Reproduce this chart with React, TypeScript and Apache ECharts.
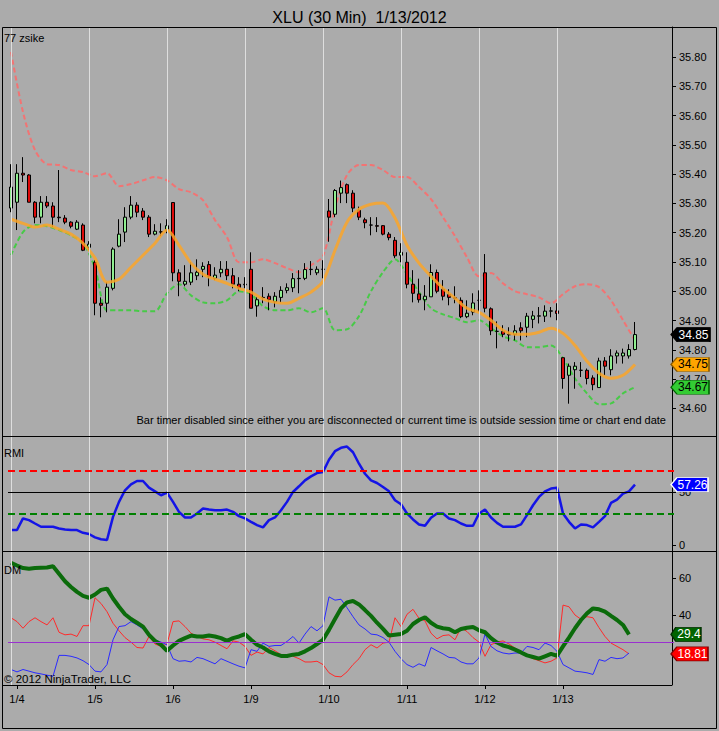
import React, { useEffect, useRef } from "react";
import * as echarts from "echarts";

const FONT = "'Liberation Sans', Arial, sans-serif";

const chartTitle = "XLU (30 Min)  1/13/2012";
const slotCount = 111;
const dayLabels = ["1/4", "1/5", "1/6", "1/9", "1/10", "1/11", "1/12", "1/13"];
const dayLabelIndex = [1, 14, 27, 40, 53, 66, 79, 92];
const sessionBreakIndex = [0, 13, 26, 39, 52, 65, 78, 91];
const priceTicks = [34.6, 34.7, 34.8, 34.9, 35.0, 35.1, 35.2, 35.3, 35.4, 35.5, 35.6, 35.7, 35.8];
const rmiTicks = [0, 50];
const dmTicks = [40, 60];
const rmiUpper = 70;
const rmiMiddle = 50;
const rmiLower = 30;
const dmLevel = 25;
const tagIndex = 110;
const tagTexts = { close: "34.85", middle: "34.75", lower: "34.67", rmi: "57.26", adx: "29.4", plusDI: "18.81" };

// [open, close, low, high]
const candles = [
  [35.284, 35.356, 35.270, 35.434], [35.304, 35.403, 35.209, 35.434], [35.403, 35.397, 35.373, 35.458],
  [35.397, 35.304, 35.304, 35.400], [35.304, 35.253, 35.232, 35.308], [35.253, 35.304, 35.232, 35.325],
  [35.304, 35.291, 35.284, 35.325], [35.291, 35.253, 35.219, 35.304], [35.253, 35.251, 35.236, 35.414],
  [35.250, 35.236, 35.229, 35.260], [35.236, 35.222, 35.215, 35.239], [35.212, 35.236, 35.209, 35.243],
  [35.226, 35.140, 35.137, 35.232], [35.150, 35.161, 35.140, 35.171], [35.099, 34.959, 34.918, 35.106],
  [34.959, 34.952, 34.911, 34.979], [34.959, 35.014, 34.928, 35.031], [35.010, 35.144, 35.003, 35.150],
  [35.154, 35.195, 35.150, 35.246], [35.202, 35.253, 35.168, 35.287], [35.253, 35.294, 35.246, 35.325],
  [35.294, 35.270, 35.253, 35.304], [35.274, 35.253, 35.243, 35.284], [35.253, 35.195, 35.185, 35.260],
  [35.195, 35.205, 35.191, 35.229], [35.203, 35.202, 35.188, 35.232], [35.209, 35.224, 35.198, 35.246],
  [35.303, 35.063, 35.034, 35.304], [35.063, 35.034, 34.983, 35.075], [35.024, 35.034, 35.017, 35.089],
  [35.031, 35.063, 35.021, 35.099], [35.053, 35.065, 35.038, 35.109], [35.075, 35.085, 35.048, 35.099],
  [35.091, 35.050, 35.017, 35.103], [35.044, 35.055, 35.038, 35.082], [35.063, 35.075, 35.048, 35.103],
  [35.075, 35.053, 35.038, 35.103], [35.053, 35.024, 35.010, 35.079], [35.024, 35.012, 35.000, 35.048],
  [35.022, 35.024, 35.010, 35.048], [35.075, 34.942, 34.942, 35.133], [34.950, 34.971, 34.913, 34.979],
  [34.979, 34.978, 34.959, 35.014], [34.983, 34.971, 34.935, 34.993], [34.964, 34.983, 34.945, 34.997],
  [34.979, 35.003, 34.962, 35.017], [35.003, 35.012, 34.993, 35.027], [35.012, 35.043, 34.997, 35.062],
  [35.043, 35.044, 34.993, 35.072], [35.044, 35.074, 35.038, 35.096], [35.074, 35.075, 35.055, 35.103],
  [35.063, 35.075, 35.055, 35.085], [35.075, 35.075, 35.044, 35.106], [35.274, 35.253, 35.169, 35.315],
  [35.263, 35.344, 35.253, 35.349], [35.335, 35.354, 35.301, 35.378], [35.364, 35.335, 35.301, 35.368],
  [35.335, 35.284, 35.270, 35.345], [35.277, 35.253, 35.243, 35.289], [35.244, 35.234, 35.215, 35.251],
  [35.226, 35.226, 35.191, 35.253], [35.224, 35.222, 35.202, 35.253], [35.224, 35.195, 35.191, 35.226],
  [35.195, 35.183, 35.174, 35.202], [35.174, 35.121, 35.113, 35.185], [35.123, 35.133, 35.099, 35.164],
  [35.099, 35.024, 35.010, 35.133], [35.024, 34.993, 34.962, 35.072], [34.991, 34.971, 34.961, 35.043],
  [34.971, 34.983, 34.935, 35.021], [34.981, 35.064, 34.981, 35.092], [35.064, 35.000, 34.993, 35.074],
  [35.007, 34.983, 34.969, 35.038], [34.989, 34.979, 34.952, 35.007], [34.978, 34.976, 34.959, 35.017],
  [34.969, 34.913, 34.908, 34.979], [34.913, 34.925, 34.908, 34.969], [34.929, 34.960, 34.918, 34.993],
  [34.969, 34.969, 34.929, 35.003], [35.063, 34.942, 34.928, 35.127], [34.940, 34.865, 34.850, 34.945],
  [34.863, 34.863, 34.805, 34.897], [34.863, 34.853, 34.843, 34.884], [34.853, 34.851, 34.829, 34.877],
  [34.853, 34.865, 34.832, 34.884], [34.875, 34.865, 34.832, 34.894], [34.877, 34.915, 34.843, 34.926],
  [34.904, 34.916, 34.874, 34.933], [34.915, 34.916, 34.890, 34.946], [34.915, 34.932, 34.895, 34.952],
  [34.932, 34.933, 34.911, 34.946], [34.933, 34.924, 34.901, 34.959], [34.773, 34.702, 34.667, 34.774],
  [34.713, 34.744, 34.616, 34.753], [34.732, 34.744, 34.667, 34.758], [34.730, 34.730, 34.707, 34.758],
  [34.730, 34.702, 34.682, 34.736], [34.704, 34.681, 34.662, 34.713], [34.671, 34.762, 34.671, 34.773],
  [34.762, 34.744, 34.713, 34.775], [34.732, 34.779, 34.713, 34.802], [34.779, 34.789, 34.753, 34.798],
  [34.779, 34.789, 34.753, 34.804], [34.779, 34.801, 34.770, 34.819], [34.801, 34.852, 34.798, 34.895],
];

// envelope lines, read at every second bar
const upperBand = [
  35.817, 35.612, 35.482, 35.434, 35.431, 35.414, 35.407, 35.393, 35.403, 35.359,
  35.366, 35.379, 35.390, 35.379, 35.349, 35.338, 35.311, 35.243, 35.185, 35.099,
  35.099, 35.109, 35.096, 35.079, 35.065, 35.089, 35.120, 35.284, 35.397, 35.431,
  35.431, 35.414, 35.390, 35.390, 35.356, 35.315, 35.253, 35.188, 35.116, 35.051,
  35.062, 35.027, 35.000, 34.990, 34.979, 34.959, 34.990, 35.017, 35.024, 35.014,
  34.969, 34.901, 34.832,
];
const middleLine = [
  35.246, 35.232, 35.219, 35.226, 35.212, 35.195, 35.164, 35.113, 35.031, 35.041,
  35.082, 35.123, 35.164, 35.209, 35.157, 35.096, 35.058, 35.041, 35.027, 35.010,
  34.997, 34.973, 34.962, 34.959, 34.976, 34.997, 35.034, 35.140, 35.236, 35.280,
  35.297, 35.301, 35.250, 35.157, 35.096, 35.051, 35.010, 34.976, 34.942, 34.928,
  34.901, 34.867, 34.853, 34.853, 34.860, 34.874, 34.856, 34.815, 34.761, 34.720,
  34.703, 34.713, 34.750,
];
const lowerBand = [
  35.123, 35.202, 35.226, 35.222, 35.209, 35.191, 35.164, 35.079, 34.935, 34.935,
  34.935, 34.932, 34.932, 34.993, 35.024, 34.986, 34.962, 34.959, 34.969, 35.000,
  34.990, 34.949, 34.935, 34.935, 34.942, 34.928, 34.942, 34.867, 34.870, 34.915,
  35.000, 35.065, 35.109, 35.058, 34.997, 34.942, 34.921, 34.908, 34.894, 34.901,
  34.874, 34.846, 34.832, 34.809, 34.809, 34.815, 34.771, 34.702, 34.651, 34.614,
  34.617, 34.651, 34.672,
];

const rmi = [
  14.2, 14.2, 25.2, 23.6, 20.4, 17.3, 17.3, 17.3, 15.7, 14.8,
  14.2, 14.2, 11.6, 10.4, 7.2, 5.4, 4.7, 26.7, 40.9, 51.9,
  57.5, 60.7, 60.7, 54.4, 50.9, 47.2, 49.7, 40.9, 31.4, 26.1,
  26.1, 29.9, 34.6, 33.6, 33.0, 33.0, 33.6, 31.4, 27.4, 25.2,
  22.0, 18.9, 16.7, 23.6, 26.1, 33.0, 40.9, 50.3, 55.7, 61.3,
  65.1, 68.2, 69.2, 80.8, 89.0, 92.2, 93.4, 88.0, 77.1, 67.6,
  61.3, 58.8, 55.0, 50.9, 42.5, 38.7, 29.9, 24.2, 19.5, 18.2,
  25.8, 29.9, 29.9, 25.2, 23.6, 20.4, 18.2, 18.2, 29.9, 33.6,
  26.1, 21.0, 17.3, 17.3, 17.3, 19.5, 28.3, 37.7, 45.6, 50.9,
  53.5, 54.4, 29.9, 22.0, 15.7, 19.5, 18.9, 16.7, 22.0, 27.4,
  39.9, 43.1, 48.8, 50.9, 57.26,
];

const adx = [
  68.5, 67.0, 65.6, 65.2, 65.6, 65.8, 65.9, 66.6, 62.5, 58.4,
  55.3, 52.6, 50.4, 49.4, 51.2, 53.7, 54.4, 49.0, 44.5, 40.4,
  37.8, 35.8, 33.7, 29.2, 25.9, 23.8, 20.5, 23.4, 25.9, 27.4,
  28.8, 28.3, 28.3, 28.8, 28.3, 27.4, 25.9, 27.4, 28.3, 29.6,
  26.5, 23.8, 22.3, 20.2, 18.8, 17.7, 17.7, 18.4, 18.8, 20.2,
  22.0, 24.2, 26.5, 31.9, 37.8, 43.6, 46.9, 47.6, 45.8, 42.7,
  39.5, 35.8, 32.4, 28.8, 29.2, 29.6, 31.4, 35.1, 37.3, 38.8,
  35.8, 33.7, 32.8, 32.4, 30.6, 32.4, 33.1, 33.5, 31.7, 30.6,
  27.4, 25.0, 23.4, 22.5, 21.1, 19.6, 18.0, 17.1, 16.2, 17.5,
  18.8, 17.8, 22.9, 27.7, 32.8, 37.3, 40.9, 43.6, 43.1, 41.8,
  39.5, 37.3, 34.6, 29.4,
];
const plusDI = [
  38.5, 36.4, 32.8, 36.4, 38.5, 36.4, 34.6, 38.5, 30.6, 29.2,
  29.6, 28.3, 34.2, 34.2, 49.4, 46.3, 41.8, 35.5, 31.4, 27.7,
  25.2, 22.3, 22.0, 28.3, 24.2, 22.9, 24.2, 36.4, 36.8, 33.7,
  30.1, 28.3, 27.0, 26.5, 25.2, 23.4, 21.6, 25.9, 25.2, 22.9,
  18.0, 19.8, 18.8, 22.3, 20.5, 18.4, 18.4, 17.5, 16.2, 14.4,
  14.4, 14.8, 13.0, 8.5, 6.6, 6.3, 9.0, 13.0, 16.2, 21.1,
  23.8, 22.0, 24.7, 25.2, 38.5, 33.7, 40.4, 43.1, 38.2, 36.8,
  30.1, 27.0, 28.8, 29.2, 26.5, 33.1, 31.0, 27.7, 25.2, 17.5,
  23.8, 25.2, 25.9, 24.2, 22.0, 19.8, 18.0, 16.2, 15.1, 13.9,
  14.8, 16.6, 45.4, 44.5, 40.0, 37.7, 39.1, 38.5, 33.1, 28.3,
  24.7, 22.9, 21.1, 18.81,
];
const minusDI = [
  10.3, 9.0, 10.3, 9.4, 8.5, 7.9, 7.2, 6.6, 18.0, 18.0,
  17.5, 16.6, 15.1, 13.0, 9.4, 9.0, 13.0, 26.5, 33.7, 34.2,
  36.4, 34.6, 32.4, 29.2, 26.5, 25.2, 23.8, 16.2, 14.8, 15.1,
  14.4, 16.9, 16.2, 14.8, 13.4, 16.2, 14.8, 13.4, 12.1, 11.2,
  21.1, 20.2, 24.7, 22.9, 23.4, 23.4, 25.6, 28.3, 24.7, 29.6,
  33.7, 31.4, 34.2, 49.9, 48.1, 48.6, 44.0, 39.1, 34.6, 32.4,
  29.6, 29.2, 27.7, 25.2, 20.2, 16.2, 13.0, 11.5, 13.4, 12.1,
  22.3, 20.5, 18.8, 16.9, 16.6, 14.4, 13.4, 13.4, 16.6, 29.6,
  22.9, 20.5, 19.3, 18.8, 19.3, 19.3, 22.9, 22.3, 21.1, 24.7,
  23.4, 20.2, 13.0, 11.2, 9.4, 9.0, 8.5, 7.6, 15.7, 14.8,
  16.9, 16.2, 16.6, 19.3,
];

const ARROW = "path://M0,7L7,0L44,0L44,14L7,14Z";
const BG = "#ababab";

function tag(value: number, text: string, fill: string, textColor: string, stroke: string, w: number) {
  return {
    coord: [String(tagIndex), value],
    symbol: ARROW,
    symbolSize: [w, 14],
    symbolOffset: [w / 2, 0],
    symbolKeepAspect: false,
    itemStyle: { color: fill, borderColor: stroke, borderWidth: 1 },
    label: {
      show: true,
      position: "inside",
      formatter: text,
      color: textColor,
      fontSize: 12,
      fontFamily: FONT,
      offset: [3, 0],
    },
  };
}

function buildOption() {
  const cats = Array.from({ length: slotCount }, (_, i) => String(i));
  const even = (arr: number[]) => arr.map((v, k) => [k * 2, v]);
  const idx = (arr: number[]) => arr.map((v, k) => [k, v]);
  const gridLeft = 8;
  const gridWidth = 6 * slotCount;
  const isDayLabel = (i: number) => dayLabelIndex.indexOf(i) >= 0;

  const hiddenX = (gi: number) => ({
    type: "category",
    gridIndex: gi,
    data: cats,
    boundaryGap: true,
    axisLine: { show: false },
    axisTick: { show: false },
    axisLabel: { show: false },
    splitLine: { show: false },
  });

  const yBase = (gi: number, min: number, max: number, ticks: number[], fmt: (v: number) => string) => ({
    type: "value",
    gridIndex: gi,
    position: "right",
    offset: -2,
    min,
    max,
    axisLine: { show: true, lineStyle: { color: "#000", width: 1 } },
    axisTick: { show: true, length: 4, customValues: ticks, lineStyle: { color: "#000" } },
    axisLabel: { show: true, customValues: ticks, formatter: fmt, color: "#000", fontSize: 11, fontFamily: FONT, margin: 7 },
    splitLine: { show: false },
  });

  const sepLines = sessionBreakIndex.map((i) => ({ xAxis: String(i) }));
  const sepSeries = (gi: number, extra: any[]) => ({
    type: "line",
    xAxisIndex: gi,
    yAxisIndex: gi,
    data: [],
    z: 1,
    silent: true,
    markLine: {
      silent: true,
      symbol: ["none", "none"],
      label: { show: false },
      lineStyle: { color: "#dedede", width: 1, type: "solid" },
      data: [...sepLines, ...extra],
    },
  });

  return {
    animation: false,
    backgroundColor: BG,
    title: {
      text: chartTitle,
      left: "center",
      top: 4,
      textStyle: { fontSize: 16, fontWeight: "normal", color: "#000", fontFamily: FONT },
    },
    grid: [
      { left: gridLeft, width: gridWidth, top: 27, height: 409 },
      { left: gridLeft, width: gridWidth, top: 436, height: 115 },
      { left: gridLeft, width: gridWidth, top: 551, height: 134 },
    ],
    xAxis: [
      hiddenX(0),
      hiddenX(1),
      {
        type: "category",
        gridIndex: 2,
        data: cats,
        boundaryGap: true,
        axisLine: { show: false },
        axisTick: {
          show: true,
          alignWithLabel: true,
          interval: (i: number) => isDayLabel(i),
          length: 4,
          lineStyle: { color: "#000" },
        },
        axisLabel: {
          show: true,
          interval: (i: number) => isDayLabel(i),
          formatter: (v: string) => {
            const k = dayLabelIndex.indexOf(Number(v));
            return k >= 0 ? dayLabels[k] : "";
          },
          color: "#000",
          fontSize: 11,
          fontFamily: FONT,
          margin: 8,
        },
        splitLine: { show: false },
      },
    ],
    yAxis: [
      yBase(0, 34.5056, 35.9025, priceTicks, (v: number) => v.toFixed(2)),
      yBase(1, -5.7, 103.4, rmiTicks, (v: number) => String(Math.round(v))),
      yBase(2, 1.85, 74.9, dmTicks, (v: number) => String(Math.round(v))),
    ],
    series: [
      sepSeries(0, []),
      sepSeries(1, [
        { yAxis: rmiUpper, lineStyle: { color: "#ff0000", width: 2, type: [7, 4] } },
        { yAxis: rmiMiddle, lineStyle: { color: "#000000", width: 1, type: "solid" } },
        { yAxis: rmiLower, lineStyle: { color: "#008000", width: 2, type: [7, 4] } },
      ]),
      sepSeries(2, [{ yAxis: dmLevel, lineStyle: { color: "#9a30d0", width: 1, type: "solid" } }]),
      {
        type: "line",
        name: "upper",
        xAxisIndex: 0,
        yAxisIndex: 0,
        data: even(upperBand),
        showSymbol: false,
        smooth: 0.3,
        z: 2,
        lineStyle: { color: "rgba(255,105,105,0.85)", width: 2, type: [5, 3] },
      },
      {
        type: "line",
        name: "lower",
        xAxisIndex: 0,
        yAxisIndex: 0,
        data: even(lowerBand),
        showSymbol: false,
        smooth: 0.3,
        z: 2,
        lineStyle: { color: "rgba(60,205,60,0.9)", width: 2, type: [5, 3] },
      },
      {
        type: "candlestick",
        xAxisIndex: 0,
        yAxisIndex: 0,
        data: candles,
        barWidth: 4,
        z: 3,
        itemStyle: {
          color: "#90ee90",
          color0: "#dd0a0a",
          borderColor: "#000",
          borderColor0: "#000",
          borderColorDoji: "#000",
          borderWidth: 1,
        },
      },
      {
        type: "line",
        name: "middle",
        xAxisIndex: 0,
        yAxisIndex: 0,
        data: even(middleLine),
        showSymbol: false,
        smooth: 0.3,
        z: 4,
        lineStyle: { color: "rgba(250,165,40,0.85)", width: 3 },
        markPoint: {
          silent: true,
          data: [
            tag(candles[candles.length - 1][1], tagTexts.close, "#000000", "#ffffff", "#000000", 39),
            tag(middleLine[middleLine.length - 1], tagTexts.middle, "#ffa500", "#000000", "#8a5a00", 38),
            tag(lowerBand[lowerBand.length - 1], tagTexts.lower, "#33cc33", "#000000", "#006400", 38),
          ],
        },
      },
      {
        type: "line",
        name: "RMI",
        xAxisIndex: 1,
        yAxisIndex: 1,
        data: idx(rmi),
        showSymbol: false,
        z: 4,
        lineStyle: { color: "#1414e6", width: 2.5 },
        markPoint: {
          silent: true,
          data: [tag(rmi[rmi.length - 1], tagTexts.rmi, "#0000ff", "#ffffff", "#ffffff", 37)],
        },
      },
      {
        type: "line",
        name: "+DI",
        xAxisIndex: 2,
        yAxisIndex: 2,
        data: idx(plusDI),
        showSymbol: false,
        z: 3,
        lineStyle: { color: "#ff2a2a", width: 1 },
        markPoint: {
          silent: true,
          data: [tag(plusDI[plusDI.length - 1], tagTexts.plusDI, "#ff0000", "#ffffff", "#800000", 37)],
        },
      },
      {
        type: "line",
        name: "-DI",
        xAxisIndex: 2,
        yAxisIndex: 2,
        data: idx(minusDI),
        showSymbol: false,
        z: 3,
        lineStyle: { color: "#2a2aff", width: 1 },
      },
      {
        type: "line",
        name: "ADX",
        xAxisIndex: 2,
        yAxisIndex: 2,
        data: idx(adx),
        showSymbol: false,
        z: 4,
        lineStyle: { color: "#0b6b0b", width: 4 },
        markPoint: {
          silent: true,
          data: [tag(adx[adx.length - 1], tagTexts.adx, "#006400", "#ffffff", "#003000", 30)],
        },
      },
    ],
    graphic: [
      { type: "rect", silent: true, z: 50, shape: { x: 2.5, y: 27.5, width: 714, height: 701 }, style: { fill: "none", stroke: "#000", lineWidth: 1 } },
      { type: "line", silent: true, z: 50, shape: { x1: 2, y1: 436.5, x2: 717, y2: 436.5 }, style: { stroke: "#000", lineWidth: 1 } },
      { type: "line", silent: true, z: 50, shape: { x1: 2, y1: 551.5, x2: 717, y2: 551.5 }, style: { stroke: "#000", lineWidth: 1 } },
      { type: "line", silent: true, z: 50, shape: { x1: 2, y1: 685.5, x2: 672, y2: 685.5 }, style: { stroke: "#000", lineWidth: 1 } },
      { type: "text", silent: true, z: 50, x: 4, y: 38, style: { text: "77 zsike", fill: "#000", font: `11px ${FONT}`, verticalAlign: "middle" } },
      { type: "text", silent: true, z: 50, x: 4, y: 453, style: { text: "RMI", fill: "#000", font: `11px ${FONT}`, verticalAlign: "middle" } },
      { type: "text", silent: true, z: 50, x: 4, y: 570, style: { text: "DM", fill: "#000", font: `11px ${FONT}`, verticalAlign: "middle" } },
      { type: "text", silent: true, z: 50, x: 4, y: 679, style: { text: "© 2012 NinjaTrader, LLC", fill: "#000", font: `11.5px ${FONT}`, verticalAlign: "middle" } },
      {
        type: "text",
        silent: true,
        z: 50,
        x: 666,
        y: 420,
        style: {
          text: "Bar timer disabled since either you are disconnected or current time is outside session time or chart end date",
          fill: "#000",
          font: `11px ${FONT}`,
          align: "right",
          verticalAlign: "middle",
        },
      },
    ],
  };
}

export default function App() {
  const ref = useRef<HTMLDivElement>(null);
  useEffect(() => {
    document.body.style.margin = "0";
    document.body.style.background = BG;
    if (!ref.current) return;
    const chart = echarts.init(ref.current, undefined, { renderer: "svg" });
    chart.setOption(buildOption() as any);
    return () => chart.dispose();
  }, []);
  return <div ref={ref} style={{ width: 719, height: 731 }} />;
}
